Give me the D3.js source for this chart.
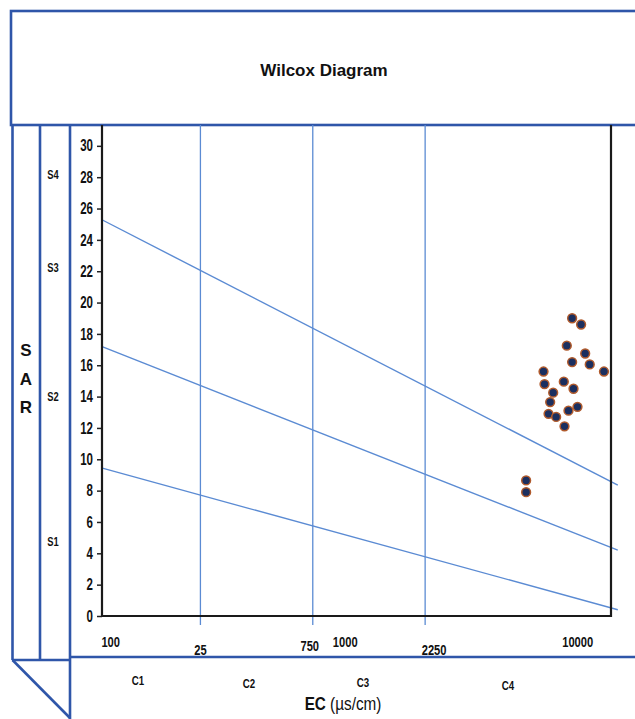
<!DOCTYPE html>
<html>
<head>
<meta charset="utf-8">
<script src="https://cdn.jsdelivr.net/npm/d3@7"></script>
<style>
  html, body { margin: 0; padding: 0; background: #fff; }
  svg { display: block; }
  text { font-family: "Liberation Sans", Arial, sans-serif; }
</style>
</head>
<body>
<svg id="chart" width="635" height="719"></svg>
<script>
// Sample points: electrical conductivity (µS/cm) and sodium adsorption ratio
const ecValues  = [9470, 10340, 8990, 10760, 9470, 11250, 12930, 7160, 7230, 8730,
                   9600, 7870, 7640, 9980, 9140, 7520, 8100, 8790, 6040, 6040];
const sarValues = [19.0, 18.6, 17.25, 16.75, 16.2, 16.05, 15.6, 15.6, 14.8, 14.95,
                   14.5, 14.25, 13.65, 13.35, 13.1, 12.9, 12.7, 12.1, 8.65, 7.9];

// Salinity class limits (vertical lines) and class names
const salinityLimits = [250, 750, 2250];
const salinityClasses = ["C1", "C2", "C3", "C4"];

// Sodium hazard boundaries: SAR at the low and high ends of the EC range
const boundaryEC = [95, 14800];
const boundarySAR = [
  [9.45, 0.4],   // S1 / S2
  [17.2, 4.2],   // S2 / S3
  [25.3, 8.35]   // S3 / S4
];
const sodiumClasses = ["S1", "S2", "S3", "S4"];

// Axis tick values and their labels
const yTicks = [0, 2, 4, 6, 8, 10, 12, 14, 16, 18, 20, 22, 24, 26, 28, 30];
const xTickValues = [100, 250, 750, 1000, 2250, 10000];
const xTickLabels = ["100", "25", "750", "1000", "2250", "10000"];

const svg = d3.select("#chart");
const blue = "#2f56a9";
const lineBlue = "#5b8bd3";

const plot = { left: 102, right: 611, top: 125, bottom: 616 };

const x = d3.scaleLog().domain([95.5, 13850]).range([plot.left, plot.right]);
const y = d3.scaleLinear().domain([0, 31.33]).range([plot.bottom, plot.top]);

// Squeeze text horizontally to get a condensed face
function condense(sel, sx) {
  sel.each(function () {
    const t = d3.select(this);
    const xv = +t.attr("x") || 0;
    t.attr("x", xv / sx).attr("transform", `scale(${sx},1)`);
  });
}

// ---- frame boxes ----
const frame = svg.append("g").attr("fill", "none").attr("stroke", blue).attr("stroke-width", 2.6);
frame.append("rect").attr("x", 11).attr("y", 11).attr("width", 640).attr("height", 114);
frame.append("line").attr("x1", 12.5).attr("y1", 125).attr("x2", 12.5).attr("y2", 660);
frame.append("line").attr("x1", 40).attr("y1", 125).attr("x2", 40).attr("y2", 660);
frame.append("line").attr("x1", 70).attr("y1", 125).attr("x2", 70).attr("y2", 719);
frame.append("line").attr("x1", 12).attr("y1", 660).attr("x2", 70).attr("y2", 660);
frame.append("line").attr("x1", 70).attr("y1", 657).attr("x2", 640).attr("y2", 657);
frame.append("line").attr("x1", 12.5).attr("y1", 660).attr("x2", 70).attr("y2", 718);

// ---- title ----
svg.append("text")
  .attr("x", 324).attr("y", 76)
  .attr("text-anchor", "middle")
  .attr("font-weight", "bold")
  .attr("font-size", 17)
  .attr("fill", "#111")
  .text("Wilcox Diagram");

// ---- salinity class limits ----
svg.append("g").selectAll("line").data(salinityLimits).join("line")
  .attr("x1", d => x(d)).attr("x2", d => x(d))
  .attr("y1", plot.top).attr("y2", plot.bottom + 9)
  .attr("stroke", lineBlue).attr("stroke-width", 1.3);

// ---- sodium hazard boundaries ----
svg.append("g").selectAll("line").data(boundarySAR).join("line")
  .attr("x1", x(boundaryEC[0])).attr("y1", d => y(d[0]))
  .attr("x2", x(boundaryEC[1])).attr("y2", d => y(d[1]))
  .attr("stroke", lineBlue).attr("stroke-width", 1.4);

// ---- axes ----
const yAxis = d3.axisLeft(y).tickValues(yTicks).tickSize(5).tickPadding(4);
const gy = svg.append("g").attr("transform", `translate(${plot.left},0)`).call(yAxis);
gy.select(".domain").remove();
gy.selectAll(".tick line").attr("stroke", "#222").attr("stroke-width", 1.5);
gy.selectAll(".tick text")
  .attr("font-family", "'Liberation Sans', Arial, sans-serif")
  .attr("font-size", 16).attr("font-weight", "bold").attr("fill", "#111")
  .call(condense, 0.72);

const axes = svg.append("g").attr("fill", "none").attr("stroke", "#1a1a1a").attr("stroke-width", 2.2);
axes.append("path").attr("d", d3.line()([
  [plot.left, plot.top], [plot.left, plot.bottom], [plot.right, plot.bottom], [plot.right, plot.top]
]));

// x tick labels, staggered vertically
const xLabelY = [642, 650, 646, 642, 650, 642];
const xLabelShift = [4, 0, -3, 3, 9, 0];
svg.append("g").selectAll("text").data(xTickValues).join("text")
  .attr("x", (d, i) => x(d) + xLabelShift[i])
  .attr("y", (d, i) => xLabelY[i] + 5)
  .attr("text-anchor", "middle")
  .attr("font-size", 15.5).attr("font-weight", "bold").attr("fill", "#111")
  .text((d, i) => xTickLabels[i])
  .call(condense, 0.72);

// ---- data points ----
svg.append("g").selectAll("circle").data(ecValues).join("circle")
  .attr("cx", d => x(d))
  .attr("cy", (d, i) => y(sarValues[i]))
  .attr("r", 4.4)
  .attr("fill", "#1b2f5f")
  .attr("stroke", "#b05a2c")
  .attr("stroke-width", 1.5);

// ---- class labels ----
const sY = [542, 397, 268, 175];
svg.append("g").selectAll("text").data(sodiumClasses).join("text")
  .attr("x", 53).attr("y", (d, i) => sY[i] + 4.5)
  .attr("text-anchor", "middle")
  .attr("font-size", 12.5).attr("font-weight", "bold").attr("fill", "#111")
  .text(d => d)
  .call(condense, 0.75);

const cX = [138, 249, 363, 508];
const cY = [680, 683, 682, 685];
svg.append("g").selectAll("text").data(salinityClasses).join("text")
  .attr("x", (d, i) => cX[i]).attr("y", (d, i) => cY[i] + 5)
  .attr("text-anchor", "middle")
  .attr("font-size", 13.5).attr("font-weight", "bold").attr("fill", "#111")
  .text(d => d)
  .call(condense, 0.72);

// ---- axis titles ----
const sar = svg.append("text")
  .attr("font-size", 17).attr("font-weight", "bold").attr("fill", "#111")
  .attr("text-anchor", "middle");
["S", "A", "R"].forEach((ch, i) => {
  sar.append("tspan").attr("x", 26).attr("y", 356 + i * 28.5).text(ch);
});

const ec = svg.append("text")
  .attr("x", 343).attr("y", 710)
  .attr("text-anchor", "middle")
  .attr("font-size", 18).attr("fill", "#111");
ec.append("tspan").attr("font-weight", "bold").text("EC");
ec.append("tspan").text(" (µs/cm)");
ec.call(condense, 0.85);
</script>
</body>
</html>
